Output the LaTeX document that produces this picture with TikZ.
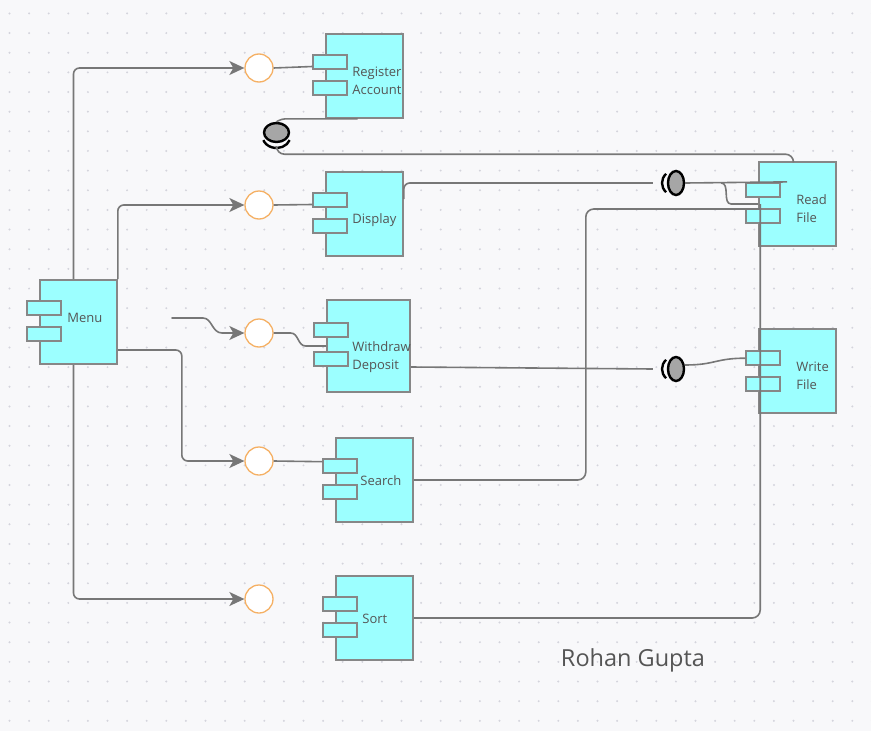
\documentclass[tikz,border=0pt]{standalone}
\usepackage{fontspec}
\setmainfont{Open Sans}
\usetikzlibrary{calc,arrows.meta,shapes.geometric,positioning}
\definecolor{comp}{HTML}{9CFFFF}
\definecolor{edge}{HTML}{878787}
\definecolor{wirec}{HTML}{777777}
\definecolor{ifacec}{HTML}{F5B064}
\definecolor{txt}{HTML}{555555}
\definecolor{paper}{HTML}{F8F8FA}
\definecolor{dotc}{HTML}{D4D4DC}
\tikzset{
  compbox/.style={draw=edge,fill=comp,line width=1.6pt,minimum width=77,minimum height=84,inner sep=0},
  port/.style={draw=edge,fill=comp,line width=1.6pt,minimum width=34,minimum height=14,inner sep=0},
  lbl/.style={text=txt,font=\fontsize{13}{18}\selectfont,align=left,anchor=west,inner sep=0},
  iface/.style={circle,draw=ifacec,fill=white,line width=1.3pt,minimum size=28,inner sep=0},
  wire/.style={draw=wirec,line width=1.6pt},
  call/.style={wire,-{Stealth[length=15pt,width=14pt,inset=4pt]}},
  ball/.style={ellipse,draw=black,fill=black!35,line width=2.4pt,inner sep=0},
  sock/.style={draw=black,line width=2.4pt}
}
\begin{document}
\begin{tikzpicture}[x=1pt,y=-1pt]
  % background and grid dots
  \fill[paper] (0,0) rectangle (871,731);
  \useasboundingbox (0,0) rectangle (871,731);
  \foreach \i in {0,...,44} \foreach \j in {0,...,36} \fill[dotc] (9.5+19.6*\i,13.4+19.65*\j) circle (1.1);

  % components
  \node[compbox] (menu) at (78.5,322) {};
  \node[compbox] (reg) at (364.5,76) {};
  \node[compbox] (disp) at (364.5,214) {};
  \node[compbox,minimum width=83,minimum height=92] (wd) at (368.5,346) {};
  \node[compbox] (srch) at (374.5,480) {};
  \node[compbox] (sort) at (374.5,618) {};
  \node[compbox] (read) at (797.5,204) {};
  \node[compbox] (write) at (797.5,371) {};
  \foreach \c/\a/\b in {menu/29/55,reg/28.5/55,disp/28.5/54.5,wd/31/60,srch/28.5/54.5,sort/29/55,read/28.5/54.5,write/30/55.5}{
    \node[port] (\c-p1) at ($(\c.north west)+(5,\a)$) {};
    \node[port] (\c-p2) at ($(\c.north west)+(5,\b)$) {};
  }
  \node[lbl] (menu-t) at ($(menu.west)+(28,-4)$) {Menu};
  \node[lbl] (reg-t) at ($(reg.west)+(27,5)$) {Register\\Account};
  \node[lbl] (disp-t) at ($(disp.west)+(27,6)$) {Display};
  \node[lbl] (wd-t) at ($(wd.west)+(26,11)$) {Withdraw\\Deposit};
  \node[lbl] (srch-t) at ($(srch.west)+(25,1)$) {Search};
  \node[lbl] (sort-t) at ($(sort.west)+(27,1)$) {Sort};
  \node[lbl] (read-t) at ($(read.west)+(38,5)$) {Read\\File};
  \node[lbl] (write-t) at ($(write.west)+(38,5)$) {Write\\File};

  % provided interfaces
  \node[iface] (i-reg) at (259,68) {};
  \node[iface] (i-disp) at (259,205) {};
  \node[iface] (i-wd) at (259,333) {};
  \node[iface] (i-srch) at (259,461) {};
  \node[iface] (i-sort) at (259,599) {};

  % required interfaces
  \node[ball,minimum width=25,minimum height=19] (b-reg) at (276.5,132.5) {};
  \node[ball,minimum width=16,minimum height=24] (b-read) at (676,183) {};
  \node[ball,minimum width=16,minimum height=24] (b-write) at (676,369) {};
  \draw[sock] (b-reg.center) ++(0,3.5) ++(20:14 and 12) arc[start angle=20,end angle=160,x radius=14,y radius=12];
  \draw[sock] (b-read.center) ++(135:14 and 13) arc[start angle=135,end angle=225,x radius=14,y radius=13];
  \draw[sock] (b-write.center) ++(135:14 and 13) arc[start angle=135,end angle=225,x radius=14,y radius=13];

  % menu calls
  \coordinate (wd-in) at (172,318);
  \fill[wirec] (wd-in) circle (0.9);
  \draw[call,rounded corners=6] ($(menu.north)+(-5,0)$) |- (i-reg);
  \draw[call,rounded corners=6] (menu.north east) |- (i-disp);
  \draw[call] (wd-in) -- ++(31,0) .. controls +(9,0) and +(-10,0) .. ++(19,15) -- (i-wd);
  \draw[call,rounded corners=6] ($(menu.east)+(0,28)$) -- ++(64,0) |- (i-srch);
  \draw[call,rounded corners=6] ($(menu.south)+(-5,0)$) |- (i-sort);

  % interfaces to components
  \draw[wire] (i-reg.east) -- ($(reg-p1.south west)+(0,-3)$);
  \draw[wire] (i-disp.east) -- ($(disp-p1.south west)+(0,-3)$);
  \draw[wire] (i-wd.east) -- ++(17,0) .. controls +(8,0) and +(-8,0) .. ++(15,13) -- (wd.west);
  \draw[wire] (i-srch.east) -- ($(srch-p1.west)+(0,-4)$);

  % file connections
  \draw[wire,rounded corners=4] ($(reg.south)+(-7,0)$) -- ($(b-reg.north)+(5,-3)$) -- (b-reg.north);
  \draw[wire,rounded corners=8] ($(b-reg.south)+(0,6)$) |- ($(read.north)+(-4,-7)$) -- ($(read.north)+(-4,0)$);
  \draw[wire,rounded corners=6] ($(disp.north east)+(0,28)$) |- ($(b-read.west)+(-14,0)$);
  \draw[wire] (b-read.east) -- ($(read-p1.north east)+(6,0)$);
  \draw[wire] ($(b-read.east)+(36,0)$) .. controls +(9,0) and +(-9,0) .. ++(10,21) -- (read.west);
  \draw[wire,rounded corners=8] (srch.east) -- ++(172,0) |- ($(read.west)+(3,5)$);
  \draw[wire,rounded corners=8] (sort.east) -| ($(read.west)+(2,0)$);
  \draw[wire] ($(wd.east)+(0,21)$) -- ($(b-write.west)+(-14,0)$);
  \draw[wire] ($(b-write.east)+(0,-4)$) .. controls +(30,0) and +(-30,0) .. (write-p1.west);

  \node[text=txt,font=\fontsize{23.5}{26}\selectfont] (author) at (633,660) {Rohan Gupta};
\end{tikzpicture}
\end{document}
